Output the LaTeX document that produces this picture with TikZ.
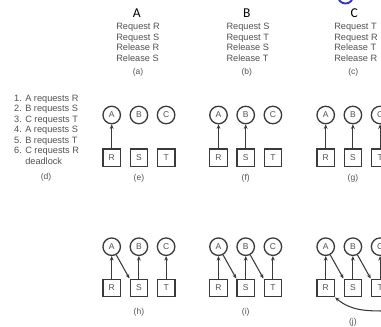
\documentclass[tikz,border=0pt]{standalone}
\usepackage{fontspec}
\setmainfont{Liberation Sans}
\newfontfamily\calib{Carlito}
\usetikzlibrary{arrows.meta}
\definecolor{ink}{HTML}{3A3A3A}
\definecolor{txt}{HTML}{525252}
\definecolor{markblue}{HTML}{2B2BD9}
\begin{document}
\begin{tikzpicture}[x=1pt,y=-1pt,
  proc/.style={circle,draw=ink,line width=1.3pt,minimum size=17.5pt,inner sep=0pt,text=txt,font=\fontsize{8.5}{8.5}\selectfont},
  res/.style={rectangle,draw=ink,line width=1.3pt,minimum size=17.5pt,inner sep=0pt,text=txt,font=\fontsize{8.5}{8.5}\selectfont},
  edge/.style={-{Stealth[length=4.5pt,width=3.8pt]},draw=ink,line width=1.05pt},
  sub/.style={text=txt,font=\fontsize{8.5}{8.5}\selectfont,inner sep=0pt},
  prog/.style={text=txt,font=\fontsize{9.2}{10.55}\selectfont,align=left,inner sep=0pt},
  head/.style={text=black,font=\calib\fontsize{13.5}{13.5}\selectfont,inner sep=0pt}]
\useasboundingbox (0,0) rectangle (381,327);
\clip (0,0) rectangle (381,327);
\fill[white] (0,0) rectangle (381,327);
\draw[markblue,line width=1.8pt] (345.5,-4) circle (7.5);
% headers
\node[head] (hA) at (136.7,12.7) {A};
\node[head] (hB) at (246.7,12.7) {B};
\node[head] (hC) at (354.3,12.7) {C};
\node[prog] (pa) at (138,42.5) {Request R\\Request S\\Release R\\Release S};
\node[prog] (pb) at (248,42.5) {Request S\\Request T\\Release S\\Release T};
\node[prog] (pc) at (356,42.5) {Request T\\Request R\\Release T\\Release R};
\node[sub] (la) at (138,72.7) {(a)};
\node[sub] (lb) at (246.7,72.7) {(b)};
\node[sub] (lc) at (353.3,72.7) {(c)};
% list
\node[prog,anchor=north west] (lst) at (14,94.5) {1. A requests R\\2. B requests S\\3. C requests T\\4. A requests S\\5. B requests T\\6. C requests R\\\phantom{6. }deadlock};
\node[sub] (ld) at (46,177.7) {(d)};
% row 1
\foreach \g/\x in {e/111.7,f/218.5,g/325.7}{
  \node[proc] (\g A) at (\x,115) {A};
  \node[proc] (\g B) at (\x+27.2,115) {B};
  \node[proc] (\g C) at (\x+54.4,115) {C};
  \node[res] (\g R) at (\x,157.8) {R};
  \node[res] (\g S) at (\x+27.2,157.8) {S};
  \node[res] (\g T) at (\x+54.4,157.8) {T};
  \node[sub] (l\g) at (\x+27.2,178.3) {(\g)};
}
% row 2
\foreach \g/\x in {h/111.7,i/218.5,j/325.7}{
  \node[proc] (\g A) at (\x,246.7) {A};
  \node[proc] (\g B) at (\x+27.2,246.7) {B};
  \node[proc] (\g C) at (\x+54.4,246.7) {C};
  \node[res] (\g R) at (\x,288) {R};
  \node[res] (\g S) at (\x+27.2,288) {S};
  \node[res] (\g T) at (\x+54.4,288) {T};
}
\node[sub] (lh) at (138.9,312.3) {(h)};
\node[sub] (li) at (245.7,312.3) {(i)};
\node[sub] (lj) at (352.9,322.7) {(j)};
% edges row 1
\draw[edge] (eR) -- (eA);
\draw[edge] (fR) -- (fA);
\draw[edge] (fS) -- (fB);
\draw[edge] (gR) -- (gA);
\draw[edge] (gS) -- (gB);
\draw[edge] (gT) -- (gC);
% edges row 2
\draw[edge] (hR) -- (hA);
\draw[edge] (hA) -- (hS.north west);
\draw[edge] (hS) -- (hB);
\draw[edge] (hT) -- (hC);
\draw[edge] (iR) -- (iA);
\draw[edge] (iA) -- (iS.north west);
\draw[edge] (iS) -- (iB);
\draw[edge] (iB) -- (iT.north west);
\draw[edge] (iT) -- (iC);
\draw[edge] (jR) -- (jA);
\draw[edge] (jA) -- (jS.north west);
\draw[edge] (jS) -- (jB);
\draw[edge] (jB) -- (jT.north west);
\draw[edge] (jT) -- (jC);
\coordinate (jlow) at (386,311);
\draw[edge] (jC.east) to[out=-70,in=0] (jlow) to[out=180,in=-40] (jR.south east);
\end{tikzpicture}
\end{document}
